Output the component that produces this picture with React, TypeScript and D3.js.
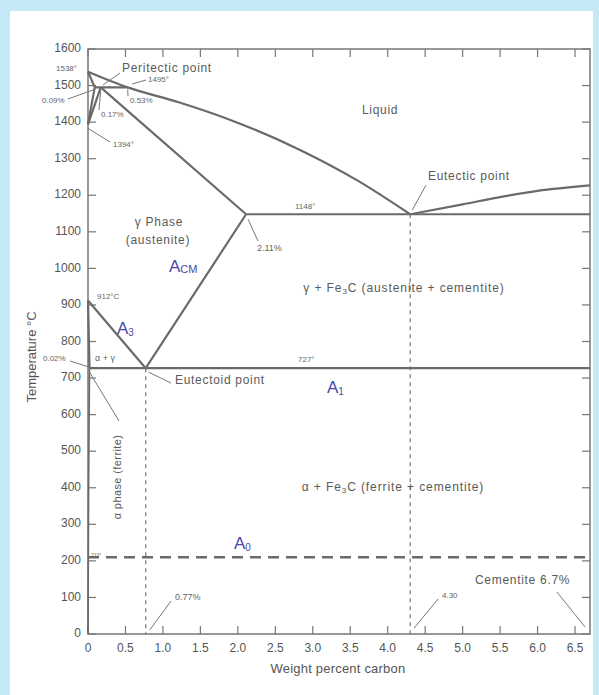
import React from 'react';
import * as d3 from 'd3';

type Pt = [number, number];

// axis ticks
const tempTicks = [0, 100, 200, 300, 400, 500, 600, 700, 800, 900, 1000, 1100, 1200, 1300, 1400, 1500, 1600];
const carbonTicks = [0, 0.5, 1, 1.5, 2, 2.5, 3, 3.5, 4, 4.5, 5, 5.5, 6, 6.5];
const carbonLabels = ['0', '0.5', '1.0', '1.5', '2.0', '2.5', '3.0', '3.5', '4.0', '4.5', '5.0', '5.5', '6.0', '6.5'];

// phase boundaries [wt% C, °C]
const liquidus: Pt[] = [[0, 1538], [0.53, 1495], [1.2, 1455], [1.9, 1406], [2.83, 1324], [3.6, 1240], [4.3, 1148]];
const cementiteLiquidus: Pt[] = [[4.3, 1148], [5.0, 1175], [5.5, 1195], [6.0, 1212], [6.7, 1227]];
const deltaSolidus: Pt[] = [[0, 1538], [0.09, 1495]];
const deltaSolvus: Pt[] = [[0, 1394], [0.09, 1495]];
const gammaDelta: Pt[] = [[0, 1394], [0.17, 1495]];
const peritectic: Pt[] = [[0.09, 1495], [0.53, 1495]];
const gammaSolidus: Pt[] = [[0.17, 1495], [2.11, 1148]];
const eutecticLine: Pt[] = [[2.11, 1148], [6.7, 1148]];
const acmLine: Pt[] = [[0.77, 727], [2.11, 1148]];
const a3Line: Pt[] = [[0, 912], [0.77, 727]];
const alphaGamma: Pt[] = [[0, 912], [0.02, 727]];
const eutectoidLine: Pt[] = [[0.02, 727], [6.7, 727]];
const ferriteSolvus: Pt[] = [[0.02, 727], [0.008, 400], [0, 0]];
const eutectoidDrop: Pt[] = [[0.77, 727], [0.77, 0]];
const eutecticDrop: Pt[] = [[4.3, 1148], [4.3, 0]];
const a0Line: Pt[] = [[0, 210], [6.7, 210]];

const W = 599;
const H = 695;
const FONT = '"Liberation Sans", Arial, Helvetica, sans-serif';
const GREY = '#6a6a6a';
const BLUE = '#4848aa';

const x = d3.scaleLinear().domain([0, 6.7]).range([88, 590]);
const y = d3.scaleLinear().domain([0, 1600]).range([634, 49]);
const line = d3.line<Pt>().x(d => x(d[0])).y(d => y(d[1]));
const curve = d3.line<Pt>().x(d => x(d[0])).y(d => y(d[1])).curve(d3.curveMonotoneX);

const solidLines = [deltaSolidus, deltaSolvus, gammaDelta, peritectic, gammaSolidus, eutecticLine, acmLine, a3Line, alphaGamma, eutectoidLine];

const Small: React.FC<{ x: number; y: number; s?: number; ls?: number; anchor?: string; children: React.ReactNode }> = ({ x, y, s = 8, ls = 0, anchor = 'start', children }) => (
  <text x={x} y={y} fontSize={s} letterSpacing={ls} fill="#666" textAnchor={anchor as any} dominantBaseline="middle">{children}</text>
);

const Label: React.FC<{ x: number; y: number; anchor?: string; children: React.ReactNode }> = ({ x, y, anchor = 'start', children }) => (
  <text x={x} y={y} fontSize={12} letterSpacing={0.7} fill="#5a5a5a" textAnchor={anchor as any} dominantBaseline="middle">{children}</text>
);

const Leader: React.FC<{ a: Pt; b: Pt }> = ({ a, b }) => (
  <line x1={a[0]} y1={a[1]} x2={b[0]} y2={b[1]} stroke="#777" strokeWidth={1} />
);

const App: React.FC = () => {
  const x0 = x(0), x1 = x(6.7), yb = y(0), yt = y(1600);
  return (
    <div style={{ position: 'absolute', left: 0, top: 0 }}>
      <svg width={W} height={H} style={{ display: 'block', fontFamily: FONT }}>
        <rect width={W} height={H} fill="#c6e9f8" />
        <rect x={10} y={11} width={583} height={684} fill="#ffffff" />

        {/* frame */}
        <rect x={x0} y={yt} width={x1 - x0} height={yb - yt} fill="none" stroke="#777" strokeWidth={1.5} />
        {tempTicks.map(t => (
          <g key={'yt' + t}>
            <line x1={x0} x2={x0 + 8} y1={y(t)} y2={y(t)} stroke="#777" strokeWidth={1.2} />
            <line x1={x1} x2={x1 - 8} y1={y(t)} y2={y(t)} stroke="#777" strokeWidth={1.2} />
            <text x={81} y={y(t)} fontSize={12} fill="#555" textAnchor="end" dominantBaseline="middle">{t}</text>
          </g>
        ))}
        {carbonTicks.map((c, i) => (
          <g key={'xt' + c}>
            <line x1={x(c)} x2={x(c)} y1={yb} y2={yb - 8} stroke="#777" strokeWidth={1.2} />
            <line x1={x(c)} x2={x(c)} y1={yt} y2={yt + 8} stroke="#777" strokeWidth={1.2} />
            <text x={x(c)} y={649} fontSize={12} fill="#555" textAnchor="middle" dominantBaseline="middle">{carbonLabels[i]}</text>
          </g>
        ))}
        <text x={338} y={670} fontSize={13} letterSpacing={0.2} fill="#555" textAnchor="middle" dominantBaseline="middle">Weight percent carbon</text>
        <text transform="translate(33,357) rotate(-90)" fontSize={13} fill="#555" textAnchor="middle" dominantBaseline="middle">Temperature °C</text>

        {/* dashed guides */}
        <path d={line(eutectoidDrop) || ''} stroke="#777" strokeWidth={1.2} strokeDasharray="4,4" fill="none" />
        <path d={line(eutecticDrop) || ''} stroke="#777" strokeWidth={1.2} strokeDasharray="4,4" fill="none" />
        <path d={line(a0Line) || ''} stroke={GREY} strokeWidth={2.6} strokeDasharray="11,7" fill="none" />

        {/* phase boundaries */}
        {solidLines.map((p, i) => (
          <path key={'s' + i} d={line(p) || ''} stroke={GREY} strokeWidth={2.2} fill="none" />
        ))}
        <path d={line(ferriteSolvus) || ''} stroke={GREY} strokeWidth={1.6} fill="none" />
        <path d={curve(liquidus) || ''} stroke={GREY} strokeWidth={2.2} fill="none" />
        <path d={curve(cementiteLiquidus) || ''} stroke={GREY} strokeWidth={2.2} fill="none" />

        {/* top-left annotations */}
        <Small x={56} y={69}>1538°</Small>
        <Label x={122} y={69}>Peritectic point</Label>
        <Leader a={[120, 73]} b={[103, 85]} />
        <Small x={148} y={80}>1495°</Small>
        <Leader a={[132, 84]} b={[146, 80]} />
        <Small x={42} y={101}>0.09%</Small>
        <Leader a={[68, 99]} b={[x(0.09), y(1495) + 2]} />
        <Small x={130} y={101}>0.53%</Small>
        <Leader a={[128, 96]} b={[x(0.53), y(1495) + 2]} />
        <Small x={101} y={115}>0.17%</Small>
        <Leader a={[99, 110]} b={[x(0.17), y(1495) + 3]} />
        <Small x={113} y={145}>1394°</Small>
        <Leader a={[110, 142]} b={[x(0), y(1394) + 4]} />

        <Label x={362} y={111}>Liquid</Label>
        <Label x={428} y={177}>Eutectic point</Label>
        <Leader a={[426, 185]} b={[x(4.3) + 2, y(1148) - 4]} />
        <Small x={295} y={207}>1148°</Small>
        <Small x={257} y={249} s={9}>2.11%</Small>
        <Leader a={[258, 241]} b={[x(2.11) + 2, y(1148) + 5]} />

        <Label x={159} y={223} anchor="middle">γ Phase</Label>
        <Label x={158} y={241} anchor="middle">(austenite)</Label>
        <text x={169} y={268} fill={BLUE} dominantBaseline="middle" fontSize={17}>A<tspan fontSize={11} dy={2}>CM</tspan></text>

        <text x={404} y={289} fontSize={12} letterSpacing={0.9} fill="#5a5a5a" textAnchor="middle" dominantBaseline="middle">γ + Fe<tspan fontSize={8} dy={3}>3</tspan><tspan dy={-3}>C (austenite + cementite)</tspan></text>

        <Small x={97} y={297}>912°C</Small>
        <text x={117} y={330} fill={BLUE} dominantBaseline="middle" fontSize={17}>A<tspan fontSize={10} dy={3}>3</tspan></text>
        <Small x={43} y={359}>0.02%</Small>
        <Leader a={[70, 361]} b={[x(0.02), y(727) - 1]} />
        <Small x={95} y={359} s={9}>α + γ</Small>
        <Small x={298} y={360}>727°</Small>
        <Label x={175} y={381}>Eutectoid point</Label>
        <Leader a={[171, 383]} b={[x(0.77) + 3, y(727) + 4]} />
        <text x={327} y={389} fill={BLUE} dominantBaseline="middle" fontSize={17}>A<tspan fontSize={10} dy={3}>1</tspan></text>

        <text transform="translate(118,477) rotate(-90)" fontSize={11} letterSpacing={0.4} fill="#5a5a5a" textAnchor="middle" dominantBaseline="middle">α phase (ferrite)</text>
        <Leader a={[90, 373]} b={[119, 421]} />

        <text x={393} y={488} fontSize={12} letterSpacing={0.9} fill="#5a5a5a" textAnchor="middle" dominantBaseline="middle">α + Fe<tspan fontSize={8} dy={3}>3</tspan><tspan dy={-3}>C (ferrite + cementite)</tspan></text>

        <text x={234} y={545} fill={BLUE} dominantBaseline="middle" fontSize={17}>A<tspan fontSize={10} dy={3}>0</tspan></text>
        <Small x={91} y={556} s={5}>210°</Small>

        <Small x={175} y={598} s={9}>0.77%</Small>
        <Leader a={[171, 601]} b={[x(0.77) + 4, yb - 4]} />
        <Small x={442} y={596}>4.30</Small>
        <Leader a={[438, 599]} b={[x(4.3) + 4, yb - 6]} />
        <Label x={475} y={581}>Cementite 6.7%</Label>
        <Leader a={[557, 592]} b={[585, 627]} />
      </svg>
    </div>
  );
};

export default App;
